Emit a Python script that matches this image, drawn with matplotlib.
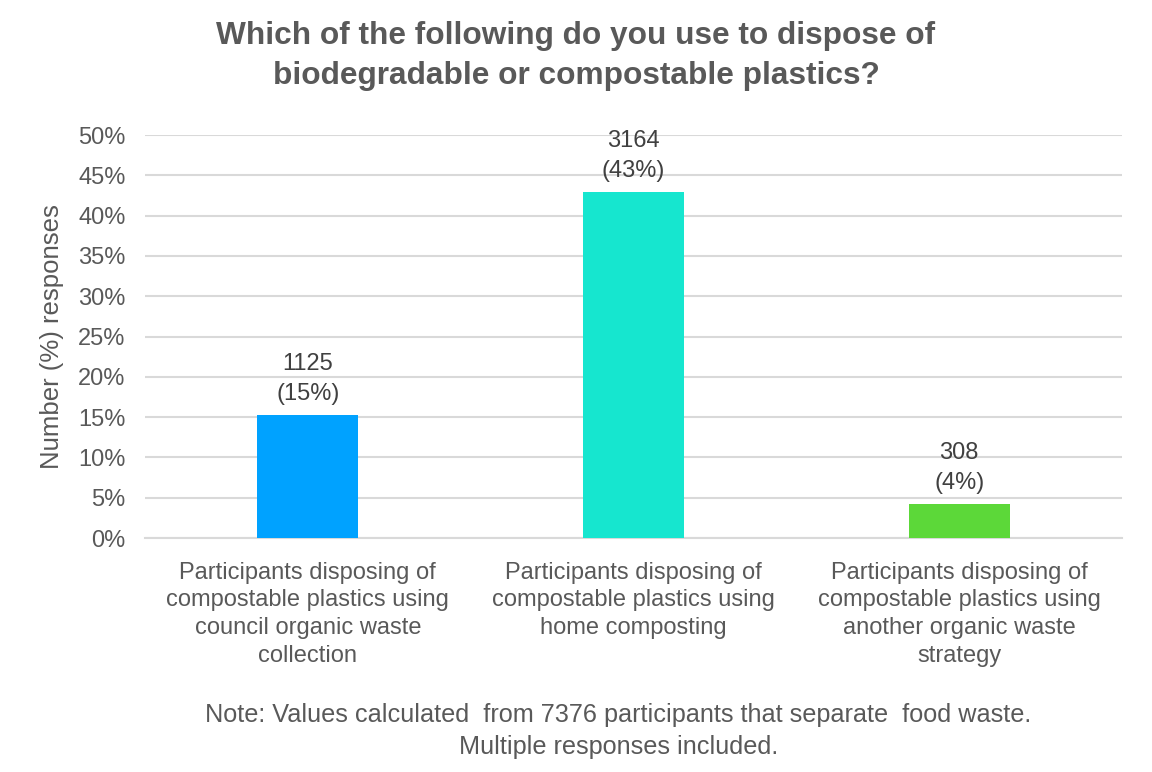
import matplotlib
matplotlib.use("Agg")
import matplotlib.pyplot as plt
from matplotlib.ticker import FuncFormatter

categories = [
    "Participants disposing of\ncompostable plastics using\ncouncil organic waste\ncollection",
    "Participants disposing of\ncompostable plastics using\nhome composting",
    "Participants disposing of\ncompostable plastics using\nanother organic waste\nstrategy",
]
percents = [15.25, 42.9, 4.18]
counts = [1125, 3164, 308]
pct_labels = ["15%", "43%", "4%"]
colors = ["#00A2FF", "#16E6CF", "#5CD839"]
yticks = [0, 5, 10, 15, 20, 25, 30, 35, 40, 45, 50]

plt.rcParams['font.family'] = ['Liberation Sans', 'DejaVu Sans']
grey = "#595959"

fig = plt.figure(figsize=(11.52, 7.72), dpi=100)
ax = fig.add_axes([0.1259, 0.303, 0.974 - 0.1259, 0.825 - 0.303])

x = list(range(len(categories)))
ax.bar(x, percents, width=0.31, color=colors, zorder=3)
for xi, v, c, p in zip(x, percents, counts, pct_labels):
    ax.text(xi, v + 1.3, f"{c}\n({p})", ha="center", va="bottom",
            fontsize=17, color="#404040", linespacing=1.45)

ax.set_xlim(-0.5, 2.5)
ax.set_ylim(0, 50)
ax.set_yticks(yticks)
ax.yaxis.set_major_formatter(FuncFormatter(lambda v, _: f"{v:.0f}%"))
ax.grid(axis="y", color="#D9D9D9", linewidth=1.5, zorder=0)
for s in ["top", "right", "left"]:
    ax.spines[s].set_visible(False)
ax.spines["bottom"].set_color("#D9D9D9")
ax.spines["bottom"].set_linewidth(1.5)
ax.tick_params(axis="y", length=0, labelsize=17, labelcolor=grey, pad=14)
ax.tick_params(axis="x", length=0, labelsize=17, labelcolor=grey, pad=17)
ax.set_xticks(x)
ax.set_xticklabels(categories, linespacing=1.34)
ax.set_ylabel("Number (%) responses", fontsize=18.5, color=grey, labelpad=10)

fig.text(0.5, 0.973, "Which of the following do you use to dispose of\nbiodegradable or compostable plastics?",
         ha="center", va="top", fontsize=22.8, fontweight="bold", color=grey, linespacing=1.45)
fig.text(0.537, 0.053, "Note: Values calculated  from 7376 participants that separate  food waste.\nMultiple responses included.",
         ha="center", va="center", fontsize=18.2, color=grey, linespacing=1.4)

fig.savefig("out.png", dpi=100)
